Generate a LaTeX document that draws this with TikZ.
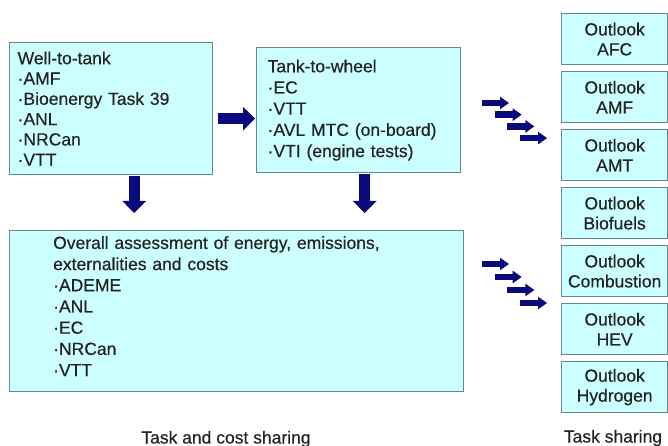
\documentclass[tikz,border=0pt]{standalone}
\usepackage{fontspec}
\setmainfont{Liberation Sans}[FakeBold=0.4]
\usetikzlibrary{arrows.meta,calc}
\definecolor{boxfill}{RGB}{204,255,255}
\definecolor{boxline}{RGB}{105,135,135}
\definecolor{navy}{RGB}{10,10,125}
\definecolor{txt}{RGB}{35,35,35}
\begin{document}
\begin{tikzpicture}[x=1pt,y=-1pt,
  every node/.style={text=txt},
  box/.style={draw=boxline, line width=1.3pt, fill=boxfill, anchor=north west, align=left,
    font=\fontsize{17.5}{20.3}\selectfont},
  obox/.style={draw=boxline, line width=1.3pt, fill=boxfill, anchor=north west, align=center,
    minimum width=106pt, minimum height=51pt, text width=100pt, inner xsep=3pt,
    font=\fontsize{17.5}{20}\selectfont},
  bigarrow/.style={navy, line width=11pt, -{Triangle[width=23pt,length=12pt]}},
  smallarrow/.style={navy, line width=6.5pt, -{Triangle[width=12pt,length=9pt]}},
  lbl/.style={font=\fontsize{17.5}{20}\selectfont}
]
\useasboundingbox (0,0) rectangle (668,446);

\node[box, minimum width=203pt, minimum height=132pt, text width=187pt, inner xsep=8pt] (wtt) at (9,42)
  {Well-to-tank\\·AMF\\·Bioenergy Task 39\\·ANL\\·NRCan\\·VTT};
\node[box, minimum width=204pt, minimum height=125pt, text width=182pt, inner xsep=11pt,
  font=\fontsize{17.5}{21.2}\selectfont] (ttw) at (256,47)
  {Tank-to-wheel\\·EC\\·VTT\\·AVL MTC (on-board)\\·VTI (engine tests)};
\node[box, minimum width=454pt, minimum height=161pt] (oa) at (9,230) {};
\node[anchor=west, align=left, inner sep=0pt, text width=366pt,
  font=\fontsize{17.5}{21.2}\selectfont] (oat) at ($(oa.west)+(44,-5)$)
  {Overall assessment of energy, emissions,\\externalities and costs\\·ADEME\\·ANL\\·EC\\·NRCan\\·VTT};

\node[obox] (o1) at (561,13)  {Outlook\\AFC};
\node[obox] (o2) at (561,71)  {Outlook\\AMF};
\node[obox] (o3) at (561,129) {Outlook\\AMT};
\node[obox] (o4) at (561,187) {Outlook\\Biofuels};
\node[obox] (o5) at (561,245) {Outlook\\Combustion};
\node[obox] (o6) at (561,303) {Outlook\\HEV};
\node[obox] (o7) at (561,361) {Outlook\\Hydrogen};

% big arrows
\draw[bigarrow] ($(wtt.east)+(5,10)$) -- ($(ttw.west)+(-1,8.5)$);
\draw[bigarrow] ($(wtt.south)+(23,1)$) -- ($(oa.north -| wtt.south)+(23,-17)$);
\draw[bigarrow] ($(ttw.south)+(6,1)$) -- ($(oa.north -| ttw.south)+(6,-17)$);

% stair arrows
\coordinate (sa) at (482,103);
\coordinate (sb) at (482,264);
\foreach \i in {0,1,2,3} {
  \draw[smallarrow] ($(sa)+(12.7*\i,11.7*\i)$) -- ++(27,0);
  \draw[smallarrow] ($(sb)+(12.7*\i,13*\i)$) -- ++(27,0);
}

\node[lbl] (l1) at (226,439) {Task and cost sharing};
\node[lbl] (l2) at (613,438) {Task sharing};
\end{tikzpicture}
\end{document}
